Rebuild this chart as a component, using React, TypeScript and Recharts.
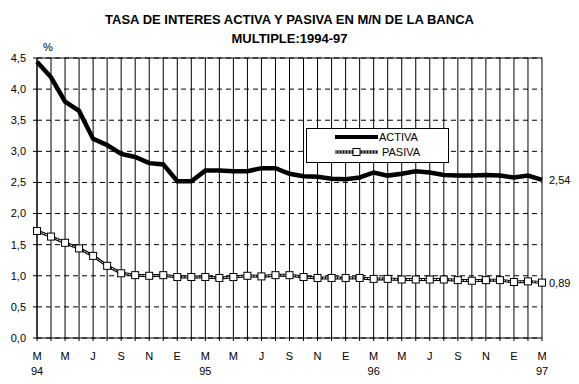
import React from "react";
import {
  LineChart,
  Line,
  XAxis,
  YAxis,
  CartesianGrid,
  ReferenceLine,
  Legend,
} from "recharts";

const monthLetters = ["M", "A", "M", "J", "J", "A", "S", "O", "N", "D", "E", "F"];
const yearLabels: Record<number, string> = { 0: "94", 12: "95", 24: "96", 36: "97" };

const activa = [
  4.44, 4.19, 3.8, 3.65, 3.2, 3.1, 2.96, 2.91, 2.81, 2.79, 2.52, 2.52,
  2.69, 2.69, 2.68, 2.68, 2.73, 2.73, 2.64, 2.6, 2.59, 2.56, 2.55, 2.58,
  2.66, 2.61, 2.64, 2.68, 2.66, 2.62, 2.61, 2.61, 2.62, 2.61, 2.58, 2.61,
  2.54,
];
const pasiva = [
  1.72, 1.63, 1.53, 1.44, 1.32, 1.16, 1.04, 1.01, 1.0, 1.01, 0.98, 0.98,
  0.98, 0.965, 0.98, 1.0, 0.99, 1.01, 1.01, 0.98, 0.965, 0.965, 0.965, 0.965,
  0.95, 0.95, 0.94, 0.94, 0.94, 0.94, 0.93, 0.92, 0.93, 0.93, 0.9, 0.91,
  0.89,
];
const yTicks = [0, 0.5, 1, 1.5, 2, 2.5, 3, 3.5, 4, 4.5];

const data = activa.map((a, i) => ({
  i,
  activa: a,
  pasiva: pasiva[i],
}));
const xTicks = data.map((d) => d.i);

const FONT = "'Liberation Sans', Arial, sans-serif";
const fmt = (v: number) => v.toFixed(1).replace(".", ",");

const XTick = (props: any) => {
  const { x, y, payload } = props;
  const i = payload.value as number;
  return (
    <g>
      {i % 2 === 0 && (
        <text x={x} y={y + 17} textAnchor="middle" fontSize={11} fontFamily={FONT} fill="#000">
          {monthLetters[i % 12]}
        </text>
      )}
      {yearLabels[i] && (
        <text x={x} y={y + 32} textAnchor="middle" fontSize={11} fontFamily={FONT} fill="#000">
          {yearLabels[i]}
        </text>
      )}
    </g>
  );
};

const Square = (props: any) => {
  const { cx, cy } = props;
  if (cx == null || cy == null) return null;
  return <rect x={cx - 3.5} y={cy - 3.5} width={7} height={7} fill="#fff" stroke="#000" strokeWidth={1} />;
};

const endLabel = (series: number[]) => (props: any) => {
  const { x, y, index } = props;
  if (index !== series.length - 1) return null;
  return (
    <text x={x + 7} y={y + 4} fontSize={11} fontFamily={FONT} fill="#000">
      {series[index].toFixed(2).replace(".", ",")}
    </text>
  );
};

const LegendBox = () => (
  <div
    style={{
      width: 143,
      height: 35,
      border: "1px solid #000",
      background: "#fff",
      boxSizing: "border-box",
      position: "relative",
      fontFamily: FONT,
      fontSize: 11,
    }}
  >
    <svg width={143} height={35} style={{ position: "absolute", left: 0, top: 0 }}>
      <line x1={28} y1={8} x2={71} y2={8} stroke="#000" strokeWidth={4} />
      <text x={72} y={12} fontSize={11} fontFamily={FONT} fill="#000">ACTIVA</text>
      <line x1={28} y1={23} x2={71} y2={23} stroke="#000" strokeWidth={3} />
      <line x1={28} y1={23} x2={71} y2={23} stroke="#fff" strokeWidth={1} strokeDasharray="2 1" />
      <rect x={46} y={19.5} width={7} height={7} fill="#fff" stroke="#000" />
      <text x={75} y={27} fontSize={11} fontFamily={FONT} fill="#000">PASIVA</text>
    </svg>
  </div>
);

export default function App() {
  return (
    <div style={{ position: "absolute", left: 0, top: 0, width: 579, height: 384, background: "#fff" }}>
      <div
        style={{
          position: "absolute",
          left: 0,
          top: 10,
          width: 579,
          textAlign: "center",
          fontFamily: FONT,
          fontWeight: "bold",
          fontSize: 13,
          lineHeight: "19px",
          color: "#000",
        }}
      >
        TASA DE INTERES ACTIVA Y PASIVA EN M/N DE LA BANCA
        <br />
        MULTIPLE:1994-97
      </div>
      <LineChart
        width={579}
        height={384}
        data={data}
        margin={{ top: 58, right: 37, bottom: 0, left: 0 }}
        style={{ position: "absolute", left: 0, top: 0 }}
      >
        <CartesianGrid horizontal={false} vertical stroke="#000" strokeWidth={1} />
        <CartesianGrid horizontal vertical={false} stroke="#000" strokeDasharray="5 4" />
        <XAxis
          dataKey="i"
          type="number"
          domain={[0, 36]}
          ticks={xTicks}
          interval={0}
          height={46}
          tick={<XTick />}
          tickLine={{ stroke: "#000" }}
          tickSize={3}
          axisLine={{ stroke: "#000" }}
          allowDecimals={false}
        />
        <YAxis
          domain={[0, 4.5]}
          ticks={yTicks}
          tickFormatter={fmt}
          width={37}
          tickSize={4}
          tickMargin={7}
          interval={0}
          axisLine={{ stroke: "#000" }}
          tickLine={{ stroke: "#000" }}
          tick={{ fill: "#000", fontSize: 11, fontFamily: FONT }}
          label={{
            content: (p: any) => {
              const vb = p.viewBox || {};
              return (
                <text x={(vb.x ?? 0) + (vb.width ?? 37) + 11} y={(vb.y ?? 58) - 7} textAnchor="middle" fontSize={11} fontFamily={FONT} fill="#000">
                  %
                </text>
              );
            },
          }}
        />
        <ReferenceLine y={4.5} stroke="#000" strokeWidth={1} />
        <Legend
          layout="horizontal"
          verticalAlign="middle"
          align="center"
          content={() => <LegendBox />}
          wrapperStyle={{ position: "absolute", left: 306, top: 128, width: 143 }}
        />
        <Line
          dataKey="activa"
          stroke="#000"
          strokeWidth={4.5}
          dot={false}
          activeDot={false}
          isAnimationActive={false}
          type="linear"
          label={endLabel(activa)}
          legendType="none"
        />
        <Line
          dataKey="pasiva"
          stroke="#000"
          strokeWidth={3}
          dot={false}
          activeDot={false}
          isAnimationActive={false}
          type="linear"
          legendType="none"
        />
        <Line
          dataKey="pasiva"
          stroke="#fff"
          strokeWidth={1}
          strokeDasharray="2 1"
          dot={<Square />}
          activeDot={false}
          isAnimationActive={false}
          type="linear"
          label={endLabel(pasiva)}
          legendType="none"
        />
      </LineChart>
    </div>
  );
}
